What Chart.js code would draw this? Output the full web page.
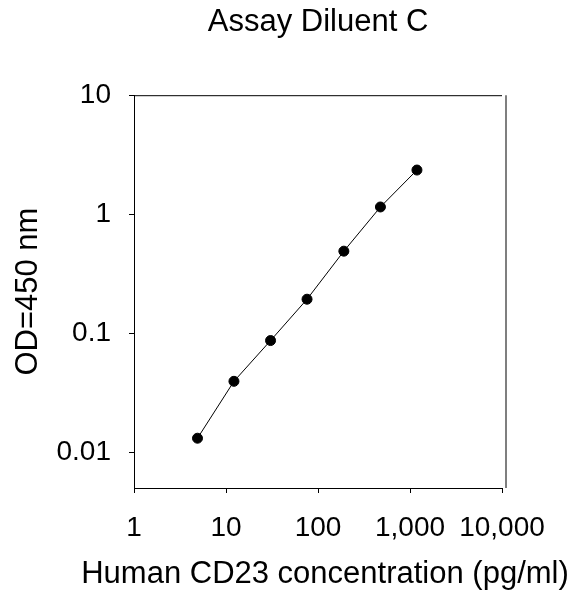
<!DOCTYPE html>
<html lang="en">
<head>
    <meta charset="UTF-8">
    <title>Assay Diluent C</title>
    <script src="https://cdn.jsdelivr.net/npm/chart.js"></script>
    <style>
        html, body { margin: 0; padding: 0; background: #fff; }
        #wrap { width: 578px; height: 600px; }
    </style>
</head>
<body>
    <div id="wrap"><canvas id="myChart"></canvas></div>

    <script>
        // CD23 standard curve
        const concentration = [4.9, 12.2, 30.5, 76, 191, 477, 1190];
        const od450 = [0.0131, 0.0394, 0.0867, 0.193, 0.489, 1.15, 2.35];
        const xTicks = [1, 10, 100, 1000, 10000];
        const yTicks = [0.01, 0.1, 1, 10];
        const xTitle = 'Human CD23 concentration (pg/ml)';

        const points = concentration.map((c, i) => ({ x: c, y: od450[i] }));

        const fontFamily = '"Liberation Sans", Arial, sans-serif';

        // top border, gray right edge, and the x title (too wide for the
        // scale title, which chart.js would squeeze to the axis width)
        const frame = {
            id: 'frame',
            afterDraw(chart) {
                const { ctx, chartArea: a } = chart;
                ctx.save();
                ctx.strokeStyle = '#000';
                ctx.lineWidth = 1;
                ctx.beginPath();
                ctx.moveTo(a.left, a.top + 0.5);
                ctx.lineTo(a.right, a.top + 0.5);
                ctx.stroke();
                ctx.strokeStyle = '#7f7f7f';
                ctx.lineWidth = 2;
                ctx.beginPath();
                ctx.moveTo(a.right + 4, a.top);
                ctx.lineTo(a.right + 4, a.bottom);
                ctx.stroke();

                ctx.fillStyle = '#000';
                ctx.font = '31px ' + fontFamily;
                ctx.textAlign = 'center';
                ctx.textBaseline = 'alphabetic';
                ctx.fillText(xTitle, (a.left + a.right) / 2 + 7, a.bottom + 95);
                ctx.restore();
            }
        };

        Chart.defaults.font.family = fontFamily;
        Chart.defaults.color = '#000';

        const ctx = document.getElementById('myChart').getContext('2d');
        const myChart = new Chart(ctx, {
            type: 'scatter',
            data: {
                datasets: [{
                    data: points,
                    showLine: true,
                    borderColor: '#000',
                    borderWidth: 1,
                    backgroundColor: '#000',
                    pointRadius: 5,
                    pointHoverRadius: 5
                }]
            },
            options: {
                responsive: true,
                maintainAspectRatio: false,
                animation: false,
                layout: { padding: { left: 0, right: 76, top: 0, bottom: 0 } },
                plugins: {
                    legend: { display: false },
                    tooltip: { enabled: false },
                    title: {
                        display: true,
                        text: 'Assay Diluent C',
                        fullSize: false,
                        font: { size: 31, weight: 'normal' },
                        color: '#000',
                        padding: { top: 4, bottom: 54 }
                    }
                },
                scales: {
                    x: {
                        type: 'logarithmic',
                        min: 1,
                        max: 10000,
                        afterBuildTicks: (s) => { s.ticks = xTicks.map(v => ({ value: v })); },
                        afterFit: (s) => { s.height = 112; },
                        ticks: {
                            autoSkip: false,
                            maxRotation: 0,
                            padding: 18,
                            font: { size: 28 },
                            callback: (v) => Number(v).toLocaleString('en-US')
                        },
                        grid: { drawOnChartArea: false, tickLength: 5, color: '#000' },
                        border: { color: '#000', width: 1 }
                    },
                    y: {
                        type: 'logarithmic',
                        min: 0.005,
                        max: 10,
                        afterBuildTicks: (s) => { s.ticks = yTicks.map(v => ({ value: v })); },
                        afterFit: (s) => { s.width = 134; },
                        ticks: {
                            autoSkip: false,
                            padding: 18,
                            font: { size: 28 },
                            callback: (v) => String(v)
                        },
                        grid: { drawOnChartArea: false, tickLength: 5, color: '#000' },
                        border: { color: '#000', width: 1 },
                        title: {
                            display: true,
                            text: 'OD=450 nm',
                            font: { size: 31 },
                            padding: { top: 10, bottom: 10 }
                        }
                    }
                }
            },
            plugins: [frame]
        });
    </script>
</body>
</html>
